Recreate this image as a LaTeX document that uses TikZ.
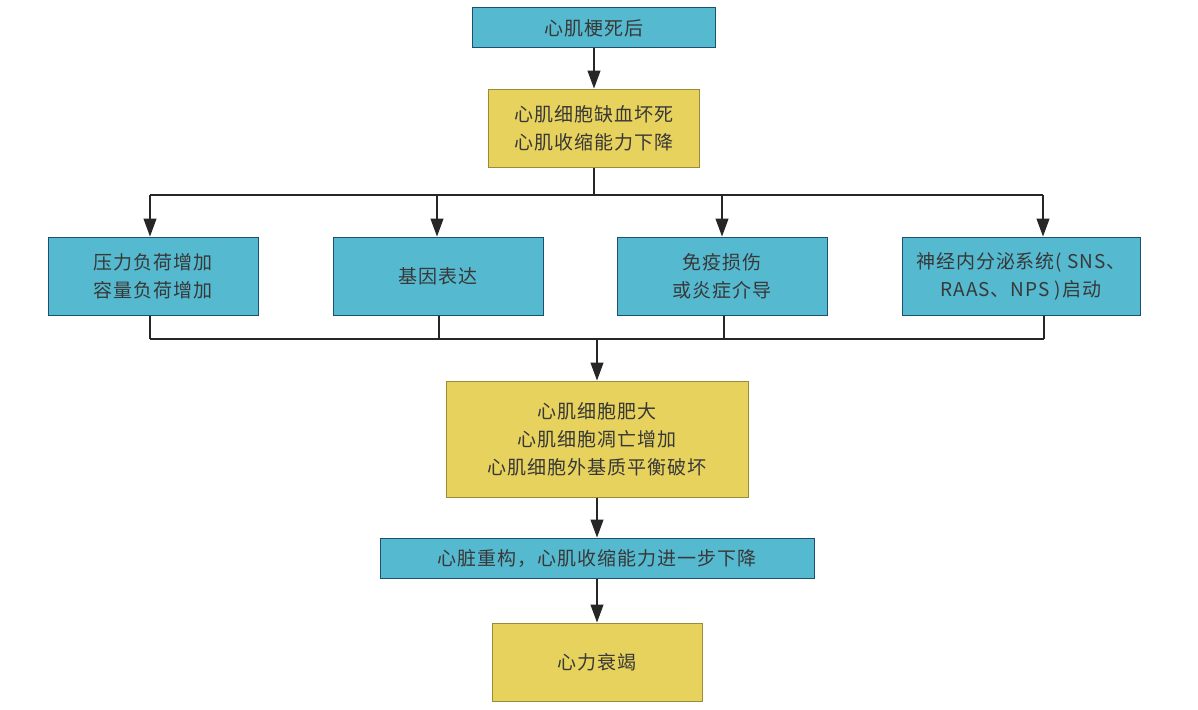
\documentclass[tikz,border=0pt]{standalone}
\usepackage{fontspec}
\setmainfont{Noto Sans CJK SC}[LetterSpace=5]
\usetikzlibrary{arrows.meta}
\definecolor{boxblue}{HTML}{55B9CF}
\definecolor{edgeblue}{HTML}{1D4F6F}
\definecolor{boxyellow}{HTML}{E6D25C}
\definecolor{edgeyellow}{HTML}{9C8A36}
\definecolor{txtgray}{HTML}{383838}
\begin{document}
\begin{tikzpicture}[x=1pt,y=-1pt,
  bluebox/.style={draw=edgeblue, fill=boxblue, line width=1pt, inner sep=0pt, align=center, text=txtgray,
    font=\fontsize{19}{28}\selectfont},
  yellowbox/.style={draw=edgeyellow, fill=boxyellow, line width=1pt, inner sep=0pt, align=center, text=txtgray,
    font=\fontsize{19}{28}\selectfont},
  line/.style={draw=black!85, line width=1.2pt},
  arr/.style={line, -{Triangle[length=18pt,width=13pt]}}]
\useasboundingbox (0,0) rectangle (1198,709);
% top of the chain
\node [bluebox, minimum width=243pt, minimum height=40pt] (mi) at (594,28) {心肌梗死后};
\node [yellowbox, minimum width=211pt, minimum height=78pt] (necro) at (594,128) {心肌细胞缺血坏死\\心肌收缩能力下降};
% four mechanisms
\node [bluebox, minimum width=210pt, minimum height=78pt] (load) at (153,276) {压力负荷增加\\容量负荷增加};
\node [bluebox, minimum width=210pt, minimum height=78pt] (gene) at (438,276) {基因表达};
\node [bluebox, minimum width=210pt, minimum height=78pt] (immune) at (722,276) {免疫损伤\\或炎症介导};
\node [bluebox, minimum width=238pt, minimum height=78pt] (neuro) at (1021,276) {神经内分泌系统( SNS、\\RAAS、NPS )启动};
% bottom of the chain
\node [yellowbox, minimum width=302pt, minimum height=116pt] (cell) at (597,439) {心肌细胞肥大\\心肌细胞凋亡增加\\心肌细胞外基质平衡破坏};
\node [bluebox, minimum width=434pt, minimum height=40pt] (remodel) at (597,558) {心脏重构，心肌收缩能力进一步下降};
\node [yellowbox, minimum width=210pt, minimum height=78pt] (hf) at (597,662) {心力衰竭};
% branch points
\coordinate (split) at (594,195);
\coordinate (loadIn) at (150,195);
\coordinate (geneIn) at (437,195);
\coordinate (immuneIn) at (722,195);
\coordinate (neuroIn) at (1043,195);
\coordinate (join) at (597,339);
\coordinate (loadOut) at (150,339);
\coordinate (geneOut) at (439,339);
\coordinate (immuneOut) at (724,339);
\coordinate (neuroOut) at (1044,339);
\draw [arr] (mi) -- (necro);
\draw [line] (necro) -- (split);
\draw [line] (loadIn) -- (neuroIn);
\draw [arr] (loadIn) -- (loadIn |- load.north);
\draw [arr] (geneIn) -- (geneIn |- gene.north);
\draw [arr] (immuneIn) -- (immuneIn |- immune.north);
\draw [arr] (neuroIn) -- (neuroIn |- neuro.north);
\draw [line] (loadOut |- load.south) -- (loadOut);
\draw [line] (geneOut |- gene.south) -- (geneOut);
\draw [line] (immuneOut |- immune.south) -- (immuneOut);
\draw [line] (neuroOut |- neuro.south) -- (neuroOut);
\draw [line] (loadOut) -- (neuroOut);
\draw [arr] (join) -- (cell);
\draw [arr] (cell) -- (remodel);
\draw [arr] (remodel) -- (hf);
\end{tikzpicture}
\end{document}
